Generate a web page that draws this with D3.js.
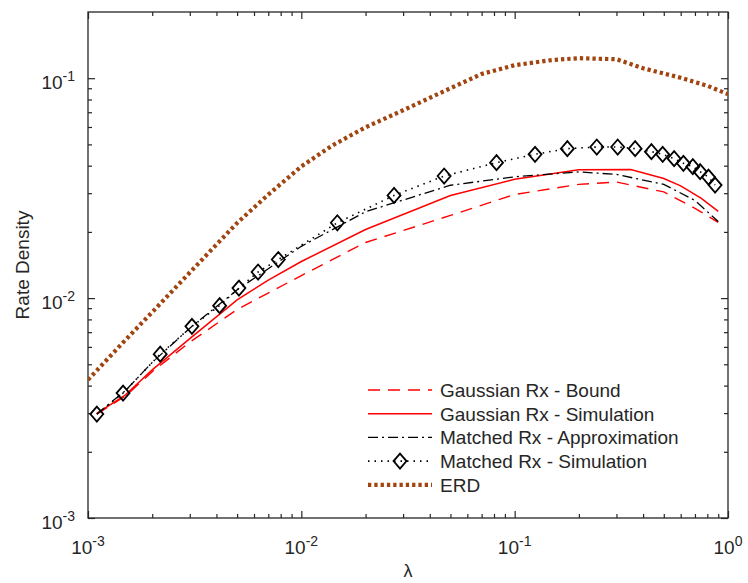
<!DOCTYPE html>
<meta charset="utf-8">
<script src="https://d3js.org/d3.v7.min.js"></script>
<style>
  body { margin: 0; background: #fff; }
  text { font-family: "Liberation Sans", Arial, Helvetica, sans-serif; fill: #262626; }
</style>
<div id="chart"></div>
<script>

// ---- data ----
var seriesNames = ["Gaussian Rx - Bound", "Gaussian Rx - Simulation", "Matched Rx - Approximation", "Matched Rx - Simulation", "ERD"];

var boundX = [0.0011, 0.0015, 0.002, 0.003, 0.005, 0.01, 0.02, 0.05, 0.1, 0.2, 0.3, 0.5, 0.7, 0.9];
var boundY = [0.00297, 0.00359, 0.00463, 0.0063, 0.00888, 0.01266, 0.0179, 0.02376, 0.0296, 0.0329, 0.0337, 0.0304, 0.0256, 0.0221];

var gaussSimX = [0.0011, 0.0015, 0.002, 0.003, 0.005, 0.007, 0.01, 0.02, 0.05, 0.1, 0.2, 0.35, 0.5, 0.6, 0.75, 0.9];
var gaussSimY = [0.00299, 0.00363, 0.00472, 0.00654, 0.00981, 0.01208, 0.01467, 0.0205, 0.0293, 0.0347, 0.0383, 0.0384, 0.035, 0.0324, 0.0284, 0.0248];

var approxX = [0.0011, 0.0015, 0.002, 0.003, 0.005, 0.01, 0.02, 0.05, 0.1, 0.2, 0.3, 0.5, 0.7, 0.9];
var approxY = [0.00297, 0.0038, 0.0051, 0.0073, 0.0109, 0.0172, 0.0247, 0.0326, 0.0356, 0.0375, 0.0365, 0.0329, 0.0278, 0.0223];

var matchedSimX = [0.0011, 0.00146, 0.00218, 0.00307, 0.00414, 0.0051, 0.00627, 0.0078, 0.01475, 0.0272, 0.0467, 0.0822,
                   0.1246, 0.1766, 0.2426, 0.304, 0.367, 0.4375, 0.494, 0.559, 0.618, 0.684, 0.74, 0.81, 0.87];
var matchedSimY = [0.00297, 0.0037, 0.00556, 0.00744, 0.00924, 0.01111, 0.01314, 0.01498, 0.02201, 0.0293, 0.0359, 0.0413,
                   0.04507, 0.04783, 0.04864, 0.04864, 0.04783, 0.04634, 0.04507, 0.04306, 0.04101, 0.03961, 0.03758, 0.03551, 0.03266];

var erdX = [0.001, 0.0015, 0.002, 0.003, 0.005, 0.007, 0.01, 0.014, 0.02, 0.03, 0.05, 0.07, 0.1, 0.15, 0.2, 0.3, 0.4, 0.6, 0.8, 1.0];
var erdY = [0.00425, 0.00646, 0.00863, 0.01307, 0.02197, 0.02955, 0.0397, 0.0495, 0.0598, 0.0715, 0.090, 0.1045, 0.1146, 0.121, 0.1233, 0.122, 0.111, 0.1004, 0.0924, 0.0846];

var xMajor = [0.001, 0.01, 0.1, 1];
var yMajor = [0.001, 0.01, 0.1];
var xExp = ["-3", "-2", "-1", "0"];
var yExp = ["-3", "-2", "-1"];

// ---- layout ----
var W = 748, H = 583;
var margin = {top: 12, right: 20, bottom: 65, left: 88},
    width = W - margin.left - margin.right,
    height = H - margin.top - margin.bottom;

var svg = d3.select("#chart").append("svg")
    .attr("width", W).attr("height", H);

var g = svg.append("g")
    .attr("transform", "translate(" + margin.left + "," + margin.top + ")");

var x = d3.scaleLog().domain([0.001, 1]).range([0, width]);
var y = d3.scaleLog().domain([0.001, 0.2]).range([height, 0]);

function minors(lo, hi) {
  var out = [];
  for (var e = Math.floor(Math.log10(lo)); e < Math.ceil(Math.log10(hi)); e++) {
    for (var k = 2; k <= 9; k++) {
      var v = k * Math.pow(10, e);
      if (v > lo && v < hi) out.push(v);
    }
  }
  return out;
}

g.append("clipPath").attr("id", "clip")
  .append("rect").attr("width", width).attr("height", height);

// ---- axes (MATLAB style: inward ticks on all four sides) ----
var axisColor = "#262626";
function styleAxis(sel) {
  sel.select(".domain").remove();
  sel.selectAll(".tick line").attr("stroke", axisColor).attr("stroke-width", 1.2);
  sel.selectAll(".tick text").remove();
}
g.append("g").attr("transform", "translate(0," + height + ")")
  .call(d3.axisBottom(x).tickValues(xMajor).tickSize(-7)).call(styleAxis);
g.append("g").attr("transform", "translate(0," + height + ")")
  .call(d3.axisBottom(x).tickValues(minors(0.001, 1)).tickSize(-4)).call(styleAxis);
g.append("g")
  .call(d3.axisTop(x).tickValues(xMajor).tickSize(-7)).call(styleAxis);
g.append("g")
  .call(d3.axisTop(x).tickValues(minors(0.001, 1)).tickSize(-4)).call(styleAxis);
g.append("g")
  .call(d3.axisLeft(y).tickValues(yMajor).tickSize(-7)).call(styleAxis);
g.append("g")
  .call(d3.axisLeft(y).tickValues(minors(0.001, 0.2)).tickSize(-4)).call(styleAxis);
g.append("g").attr("transform", "translate(" + width + ",0)")
  .call(d3.axisRight(y).tickValues(yMajor).tickSize(-7)).call(styleAxis);
g.append("g").attr("transform", "translate(" + width + ",0)")
  .call(d3.axisRight(y).tickValues(minors(0.001, 0.2)).tickSize(-4)).call(styleAxis);

g.append("rect")
  .attr("width", width).attr("height", height)
  .attr("fill", "none").attr("stroke", axisColor).attr("stroke-width", 1.3);

// tick labels 10^n
xMajor.forEach(function(v, i) {
  var t = g.append("text")
    .attr("x", x(v)).attr("y", height + 36)
    .attr("text-anchor", "middle")
    .style("font-size", "19px");
  t.append("tspan").text("10");
  t.append("tspan").attr("dy", -8).style("font-size", "14px").text(xExp[i]);
});
yMajor.forEach(function(v, i) {
  var t = g.append("text")
    .attr("x", -13).attr("y", y(v) + 11)
    .attr("text-anchor", "end")
    .style("font-size", "19px");
  t.append("tspan").text("10");
  t.append("tspan").attr("dy", -8).style("font-size", "14px").text(yExp[i]);
});

g.append("text")
  .attr("transform", "translate(-59," + (height / 2) + ") rotate(-90)")
  .attr("text-anchor", "middle")
  .style("font-size", "19px")
  .text("Rate Density");

g.append("text")
  .attr("x", width / 2).attr("y", height + 59)
  .attr("text-anchor", "middle")
  .style("font-size", "18px")
  .text("λ");

// ---- series ----
var line = d3.line()
  .x(function(d) { return x(d[0]); })
  .y(function(d) { return y(d[1]); });

function pairs(xs, ys) { return xs.map(function(v, i) { return [v, ys[i]]; }); }

var styles = [
  {stroke: "#ff0000", width: 1.4, dash: "12,8"},
  {stroke: "#ff0000", width: 1.5, dash: null},
  {stroke: "#000000", width: 1.3, dash: "10,4,2,4"},
  {stroke: "#000000", width: 1.6, dash: "1.5,5"},
  {stroke: "#a2440f", width: 4.2, dash: "3.3,3"}
];
var data = [pairs(boundX, boundY), pairs(gaussSimX, gaussSimY), pairs(approxX, approxY),
            pairs(matchedSimX, matchedSimY), pairs(erdX, erdY)];

var plot = g.append("g").attr("clip-path", "url(#clip)");

[4, 0, 1, 2, 3].forEach(function(i) {
  plot.append("path")
    .datum(data[i])
    .attr("d", line)
    .attr("fill", "none")
    .attr("stroke", styles[i].stroke)
    .attr("stroke-width", styles[i].width)
    .attr("stroke-dasharray", styles[i].dash);
});

function diamond(cx, cy) {
  var w = 6.5, h = 7.5;
  return "M" + cx + "," + (cy - h) + "L" + (cx + w) + "," + cy + "L" + cx + "," + (cy + h) + "L" + (cx - w) + "," + cy + "Z";
}

plot.selectAll(".mk")
  .data(data[3])
  .enter().append("path")
    .attr("d", function(d) { return diamond(x(d[0]), y(d[1])); })
    .attr("fill", "none")
    .attr("stroke", "#000")
    .attr("stroke-width", 1.8);

// ---- legend ----
var legend = svg.append("g").attr("transform", "translate(368,390)");
seriesNames.forEach(function(name, i) {
  var row = legend.append("g").attr("transform", "translate(0," + (i * 23.7) + ")");
  row.append("line")
    .attr("x1", 0).attr("x2", 64).attr("y1", 0).attr("y2", 0)
    .attr("stroke", styles[i].stroke)
    .attr("stroke-width", styles[i].width)
    .attr("stroke-dasharray", styles[i].dash);
  if (i === 3) row.append("path").attr("d", diamond(32, 0))
    .attr("fill", "none").attr("stroke", "#000").attr("stroke-width", 1.8);
  row.append("text")
    .attr("x", 72).attr("y", 7)
    .style("font-size", "19px")
    .text(name);
});

</script>
